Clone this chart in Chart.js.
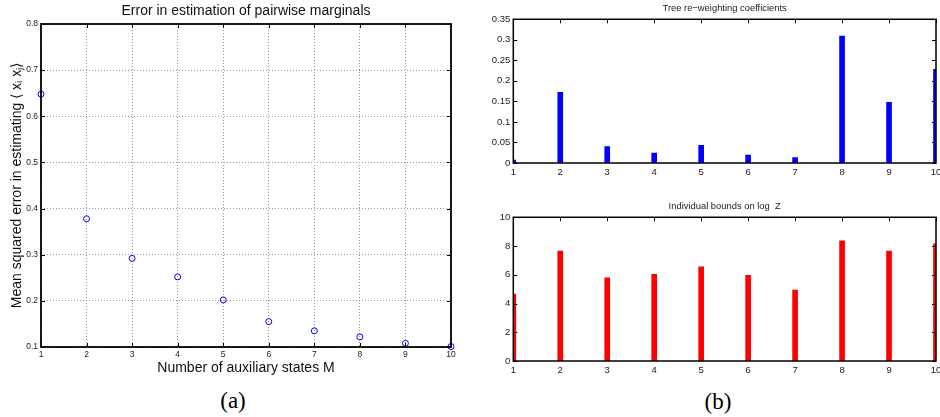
<!DOCTYPE html>
<html>
<head>
<meta charset="utf-8">
<script src="https://cdn.jsdelivr.net/npm/chart.js@4.4.1/dist/chart.umd.min.js"></script>
<style>
  html, body { margin: 0; padding: 0; background: #fff; overflow: hidden; }
  body { width: 940px; height: 417px; position: relative; }
  canvas { position: absolute; }
  .cap {
    position: absolute;
    font-family: "Liberation Serif", "DejaVu Serif", serif;
    font-size: 23px;
    transform: translate(-50%, -50%);
    color: #000;
  }
</style>
</head>
<body>
<canvas id="errChart" width="470" height="387" style="left:0;top:0"></canvas>
<canvas id="weightChart" width="470" height="183" style="left:480px;top:0"></canvas>
<canvas id="boundChart" width="470" height="186" style="left:480px;top:195px"></canvas>
<div class="cap" style="left:233px;top:401px">(a)</div>
<div class="cap" style="left:718px;top:402px">(b)</div>

<script>
// number of auxiliary states M (x positions for all three panels)
const states = [1, 2, 3, 4, 5, 6, 7, 8, 9, 10];

// (a) mean squared error in <x_i x_j>
const msError = [0.648, 0.378, 0.292, 0.252, 0.202, 0.155, 0.135, 0.122, 0.108, 0.101];

// (b) tree re-weighting coefficients and individual bounds on log Z
const treeWeights = [0.007, 0.172, 0.040, 0.024, 0.043, 0.019, 0.013, 0.309, 0.148, 0.228];
const logZBounds = [4.66, 7.64, 5.79, 6.03, 6.56, 5.96, 4.94, 8.36, 7.64, 8.15];

// tick values
const stateTicks = [1, 2, 3, 4, 5, 6, 7, 8, 9, 10];
const errTicks = [0.1, 0.2, 0.3, 0.4, 0.5, 0.6, 0.7, 0.8];
const weightTicks = [0, 0.05, 0.1, 0.15, 0.2, 0.25, 0.3, 0.35];
const boundTicks = [0, 2, 4, 6, 8, 10];

const sans = '"Liberation Sans", Arial, Helvetica, sans-serif';

// matlab style box with inward ticks
const frameTicks = {
  id: 'frameTicks',
  afterDatasetsDraw(chart, args, opts) {
    const { ctx, chartArea: a, scales } = chart;
    const len = opts.len || 4;
    ctx.save();
    ctx.strokeStyle = '#000';
    ctx.lineWidth = 1;
    ctx.beginPath();
    scales.x.ticks.forEach(t => {
      const px = Math.round(scales.x.getPixelForValue(t.value)) + 0.5;
      if (!opts.skipBottom) { ctx.moveTo(px, a.bottom); ctx.lineTo(px, a.bottom - len); }
      ctx.moveTo(px, a.top); ctx.lineTo(px, a.top + len);
    });
    scales.y.ticks.forEach(t => {
      const py = Math.round(scales.y.getPixelForValue(t.value)) + 0.5;
      ctx.moveTo(a.left, py); ctx.lineTo(a.left + len, py);
      ctx.moveTo(a.right, py); ctx.lineTo(a.right - len, py);
    });
    ctx.stroke();
    ctx.lineWidth = opts.lineWidth || 1.5;
    ctx.strokeRect(a.left, a.top, a.right - a.left, a.bottom - a.top);
    ctx.restore();
  }
};

const useTicks = arr => scale => { scale.ticks = arr.map(v => ({ value: v })); };
const xy = (xs, ys) => xs.map((x, i) => ({ x: x, y: ys[i] }));

// ---- (a) scatter ----
new Chart(document.getElementById('errChart'), {
  type: 'scatter',
  data: {
    datasets: [{
      data: xy(states, msError),
      pointStyle: 'circle',
      pointRadius: 3,
      pointBorderWidth: 1,
      pointBorderColor: '#0000ff',
      pointBackgroundColor: 'rgba(0,0,0,0)',
      clip: false
    }]
  },
  options: {
    responsive: false,
    animation: false,
    layout: { padding: { left: 0, right: 19, top: 0, bottom: 0 } },
    plugins: {
      legend: { display: false },
      tooltip: { enabled: false },
      title: {
        display: true,
        fullSize: false,
        text: 'Error in estimation of pairwise marginals',
        color: '#111',
        font: { family: sans, size: 14, weight: 'normal' },
        padding: { top: 3, bottom: 4.2 }
      },
      frameTicks: { len: 4, lineWidth: 1.8 }
    },
    scales: {
      x: {
        type: 'linear', min: 1, max: 10,
        afterBuildTicks: useTicks(stateTicks),
        grid: { color: '#999', lineWidth: 1, drawTicks: false },
        border: { display: false, dash: [1, 2] },
        ticks: { font: { family: sans, size: 8.5 }, color: '#222', padding: 3, maxRotation: 0, autoSkip: false, callback: v => String(v) },
        title: { display: true, text: 'Number of auxiliary states M', color: '#111', font: { family: sans, size: 14 }, padding: { top: 0, bottom: 10 } },
        afterFit(s) { s.height = 40; }
      },
      y: {
        min: 0.1, max: 0.8,
        afterBuildTicks: useTicks(errTicks),
        grid: { color: '#999', lineWidth: 1, drawTicks: false },
        border: { display: false, dash: [1, 2] },
        ticks: { font: { family: sans, size: 8.5 }, color: '#222', padding: 3, callback: v => v.toFixed(1) },
        title: { display: true, text: 'Mean squared error in estimating \u27E8 x\u1D62 x\u2C7C\u27E9', color: '#111', font: { family: sans, size: 14 }, padding: { top: 8.6, bottom: 0 } },
        afterFit(s) { s.width = 41; }
      }
    }
  },
  plugins: [frameTicks]
});

// ---- (b) bar panels ----
function barPanel(id, title, values, color, yMax, yTicks, fmt, titlePad) {
  return new Chart(document.getElementById(id), {
    type: 'bar',
    data: {
      datasets: [{
        data: xy(states, values),
        backgroundColor: color,
        barThickness: 5,
        clip: 0
      }]
    },
    options: {
      responsive: false,
      animation: false,
      layout: { padding: { left: 0, right: 14, top: 0, bottom: 0 } },
      plugins: {
        legend: { display: false },
        tooltip: { enabled: false },
        title: {
          display: true,
          fullSize: false,
          text: title,
          color: '#222',
          font: { family: sans, size: 9.4, weight: 'normal' },
          padding: titlePad
        },
        frameTicks: { len: 4, lineWidth: 1.5, skipBottom: true }
      },
      scales: {
        x: {
          type: 'linear', min: 1, max: 10, offset: false,
          afterBuildTicks: useTicks(stateTicks),
          grid: { display: false, drawTicks: false },
          border: { display: false },
          ticks: { font: { family: sans, size: 9.5 }, color: '#222', padding: 4, maxRotation: 0, autoSkip: false, callback: v => String(v) },
          afterFit(s) { s.height = 20; }
        },
        y: {
          min: 0, max: yMax,
          afterBuildTicks: useTicks(yTicks),
          grid: { display: false, drawTicks: false },
          border: { display: false },
          ticks: { font: { family: sans, size: 9.5 }, color: '#222', padding: 3, callback: fmt },
          afterFit(s) { s.width = 33.3; }
        }
      }
    },
    plugins: [frameTicks]
  });
}

barPanel('weightChart', 'Tree re\u2212weighting coefficients', treeWeights, '#0000ff', 0.35, weightTicks,
  v => String(+v.toFixed(2)), { top: 2.6, bottom: 5.4 });
barPanel('boundChart', 'Individual bounds on log  Z', logZBounds, '#ff0000', 10, boundTicks,
  v => String(v), { top: 5.6, bottom: 5.4 });
</script>
</body>
</html>
